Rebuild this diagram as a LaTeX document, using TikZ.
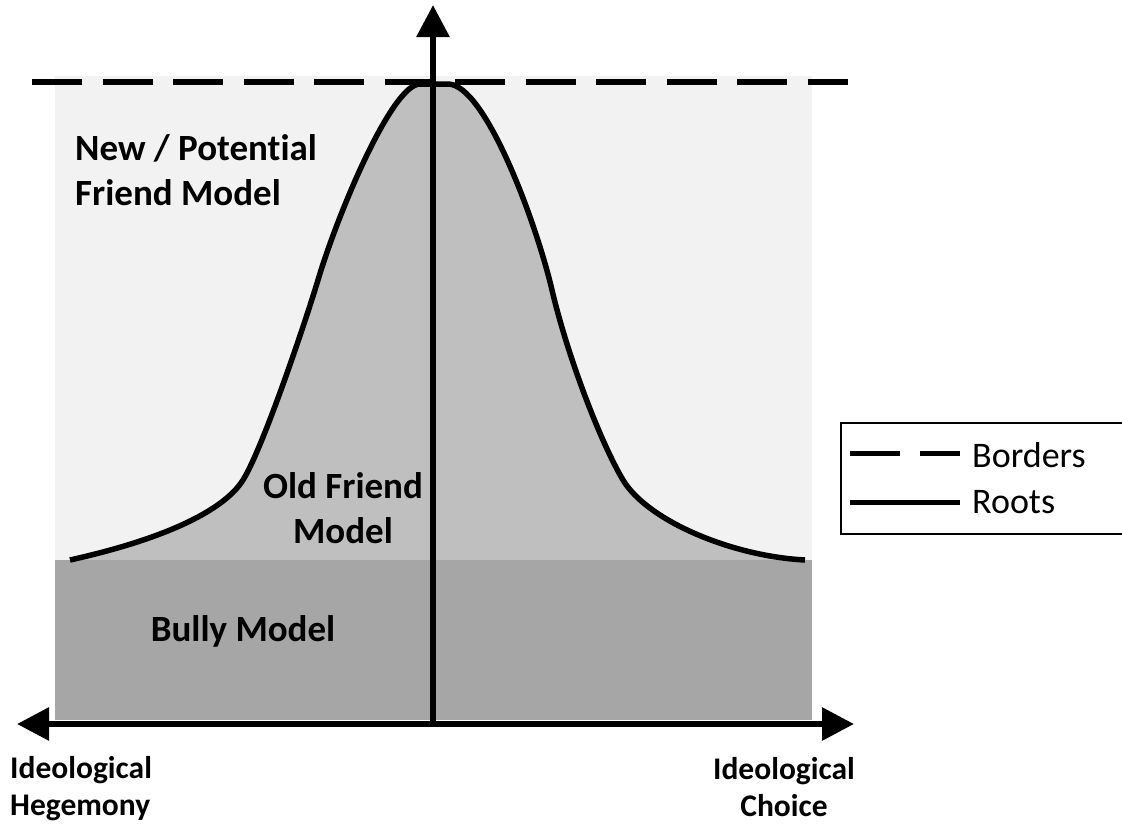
\documentclass[tikz,border=0pt]{standalone}
\usepackage{fontspec}
\setmainfont[Ligatures=NoCommon]{Carlito}
\usetikzlibrary{arrows.meta}
\definecolor{lightbg}{HTML}{F2F2F2}
\definecolor{midgray}{HTML}{BFBFBF}
\definecolor{bullygray}{HTML}{A6A6A6}
\tikzset{
  axis/.style={line width=6pt, -{Triangle[length=32pt,width=32pt]}},
  biglabel/.style={font=\bfseries\fontsize{37}{45}\selectfont, inner sep=0pt, align=center},
  axlabel/.style={font=\bfseries\fontsize{31.5}{37}\selectfont, inner sep=0pt},
  legtext/.style={font=\fontsize{36}{45}\selectfont, inner sep=0pt, anchor=west},
  rootline/.style={line width=5.5pt, line join=round},
  borderline/.style={line width=6pt, dash pattern=on 50pt off 20.5pt}
}
\def\rootpath{(70,560) .. controls (160,540) and (223,512) .. (243,480)
  .. controls (263,448) and (306,320) .. (318,280)
  .. controls (338,213) and (392,84) .. (420,84)
  -- (448,84)
  .. controls (485,84) and (536,222) .. (552,290)
  .. controls (568,358) and (601,443) .. (623,480)
  .. controls (647,520) and (730,556) .. (805,560)}
\begin{document}
\begin{tikzpicture}[x=1pt,y=-1pt]
\useasboundingbox (0,0) rectangle (1122,825);
% backgrounds
\fill[lightbg] (55,76) rectangle (812,720);
\fill[midgray] \rootpath -- cycle;
\fill[bullygray] (55,560) rectangle (812,720);
% roots curve
\draw[rootline] \rootpath;
% borders
\coordinate (bl) at (32,82);
\coordinate (br) at (848,82);
\draw[borderline] (bl) -- (br);
% axes
\coordinate (vbot) at (433,724);
\coordinate (vtop) at (433,5);
\coordinate (hmid) at (433,724);
\coordinate (hleft) at (17,724);
\coordinate (hright) at (854,724);
\draw[axis] (vbot) -- (vtop);
\draw[axis] (hmid) -- (hleft);
\draw[axis] (hmid) -- (hright);
% labels
\node[biglabel, align=left, anchor=west] (newpot) at (75,170) {New / Potential\\Friend Model};
\node[biglabel] (oldf) at (343,508) {Old Friend\\Model};
\node[biglabel] (bully) at (243,631) {Bully Model};
\node[axlabel, align=left, anchor=west] (hege) at (10,789) {Ideological\\Hegemony};
\node[axlabel, align=center] (choice) at (784,787) {Ideological\\Choice};
% legend
\node[draw, line width=1.5pt, minimum width=300pt, minimum height=111pt, anchor=north west, inner sep=0pt] (legend) at (840,422) {};
\coordinate (l1a) at (850,453);
\coordinate (l1b) at (960,453);
\coordinate (l2a) at (850,502);
\coordinate (l2b) at (960,502);
\draw[line width=5pt, dash pattern=on 50pt off 20pt] (l1a) -- (l1b);
\draw[line width=5pt] (l2a) -- (l2b);
\node[legtext] (borders) at (972,455) {Borders};
\node[legtext] (roots) at (972,502) {Roots};
\end{tikzpicture}
\end{document}
